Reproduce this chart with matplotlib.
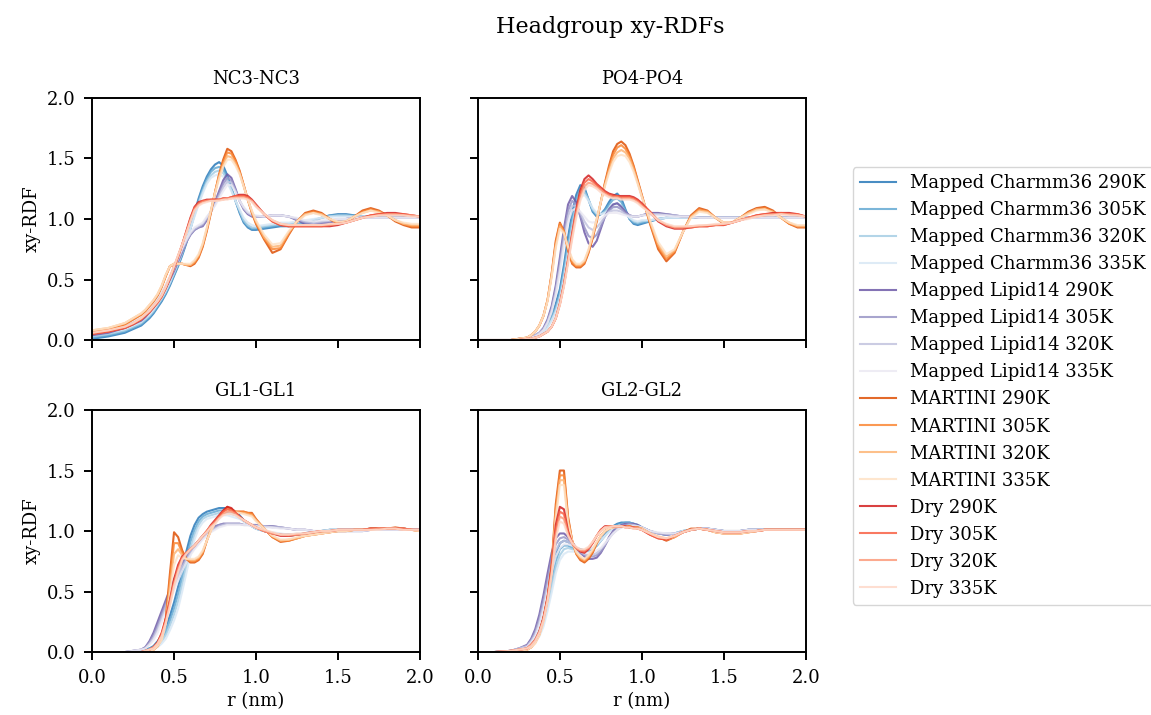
import matplotlib
matplotlib.use("Agg")
import matplotlib.pyplot as plt

plt.rcParams['font.family'] = ['DejaVu Serif']
plt.rcParams['axes.linewidth'] = 1.4

# r grid (nm)
r = [0.0, 0.1, 0.2, 0.25,
     0.3, 0.325, 0.35, 0.375, 0.4, 0.425, 0.45, 0.475,
     0.5, 0.525, 0.55, 0.575, 0.6, 0.625, 0.65, 0.675,
     0.7, 0.725, 0.75, 0.775, 0.8, 0.825, 0.85, 0.875,
     0.9, 0.925, 0.95, 0.975, 1.0,
     1.05, 1.1, 1.15, 1.2, 1.25, 1.3, 1.35, 1.4, 1.45, 1.5,
     1.55, 1.6, 1.65, 1.7, 1.75, 1.8, 1.85, 1.9, 1.95, 2.0]

# ---------------- NC3-NC3 ----------------
nc3_charmm_290 = [0.01, 0.03, 0.06, 0.09,
                  0.12, 0.15, 0.18, 0.22, 0.27, 0.32, 0.38, 0.45,
                  0.53, 0.61, 0.70, 0.80, 0.92, 1.05, 1.17, 1.27,
                  1.35, 1.41, 1.45, 1.47, 1.44, 1.36, 1.26, 1.15,
                  1.05, 0.97, 0.93, 0.91, 0.91,
                  0.92, 0.93, 0.94, 0.94, 0.95, 0.96, 0.98, 1.01, 1.03, 1.04,
                  1.04, 1.03, 1.02, 1.02, 1.02, 1.02, 1.02, 1.02, 1.02, 1.02]
nc3_charmm_305 = [0.02, 0.04, 0.07, 0.10,
                  0.13, 0.16, 0.19, 0.23, 0.28, 0.33, 0.39, 0.46,
                  0.54, 0.62, 0.71, 0.81, 0.92, 1.04, 1.15, 1.25,
                  1.33, 1.39, 1.42, 1.43, 1.41, 1.34, 1.25, 1.15,
                  1.06, 0.98, 0.94, 0.92, 0.92,
                  0.93, 0.94, 0.95, 0.95, 0.96, 0.97, 0.99, 1.01, 1.03, 1.03,
                  1.03, 1.03, 1.02, 1.02, 1.02, 1.02, 1.02, 1.02, 1.02, 1.02]
nc3_charmm_320 = [0.03, 0.05, 0.08, 0.11,
                  0.14, 0.17, 0.20, 0.24, 0.29, 0.34, 0.40, 0.47,
                  0.55, 0.63, 0.72, 0.82, 0.92, 1.03, 1.13, 1.23,
                  1.31, 1.36, 1.39, 1.40, 1.38, 1.32, 1.24, 1.15,
                  1.07, 0.99, 0.95, 0.93, 0.93,
                  0.94, 0.95, 0.96, 0.96, 0.97, 0.98, 0.99, 1.01, 1.02, 1.03,
                  1.03, 1.02, 1.02, 1.02, 1.02, 1.02, 1.02, 1.01, 1.01, 1.01]
nc3_charmm_335 = [0.04, 0.06, 0.09, 0.12,
                  0.15, 0.18, 0.21, 0.25, 0.30, 0.35, 0.41, 0.48,
                  0.56, 0.64, 0.73, 0.82, 0.92, 1.02, 1.12, 1.21,
                  1.29, 1.34, 1.36, 1.37, 1.35, 1.30, 1.23, 1.15,
                  1.08, 1.01, 0.97, 0.95, 0.94,
                  0.95, 0.96, 0.97, 0.97, 0.98, 0.99, 1.00, 1.01, 1.02, 1.02,
                  1.02, 1.02, 1.02, 1.02, 1.01, 1.01, 1.01, 1.01, 1.01, 1.01]
nc3_lipid_290 = [0.04, 0.06, 0.10, 0.13,
                 0.16, 0.19, 0.23, 0.27, 0.32, 0.37, 0.43, 0.50,
                 0.57, 0.65, 0.73, 0.81, 0.87, 0.91, 0.93, 0.94,
                 0.99, 1.06, 1.14, 1.23, 1.32, 1.37, 1.34, 1.25,
                 1.15, 1.08, 1.04, 1.02, 1.02,
                 1.02, 1.03, 1.03, 1.02, 0.99, 0.96, 0.95, 0.96, 0.97, 0.99,
                 1.00, 1.01, 1.01, 1.01, 1.01, 1.01, 1.01, 1.01, 1.01, 1.01]
nc3_lipid_305 = [0.05, 0.07, 0.11, 0.14,
                 0.17, 0.20, 0.24, 0.28, 0.33, 0.38, 0.44, 0.51,
                 0.58, 0.66, 0.74, 0.81, 0.87, 0.91, 0.93, 0.95,
                 1.00, 1.06, 1.13, 1.21, 1.29, 1.34, 1.32, 1.24,
                 1.15, 1.09, 1.05, 1.03, 1.02,
                 1.02, 1.03, 1.03, 1.02, 1.00, 0.97, 0.96, 0.97, 0.98, 0.99,
                 1.00, 1.01, 1.01, 1.01, 1.01, 1.01, 1.01, 1.01, 1.01, 1.01]
nc3_lipid_320 = [0.06, 0.08, 0.12, 0.15,
                 0.18, 0.21, 0.25, 0.29, 0.34, 0.39, 0.45, 0.52,
                 0.59, 0.67, 0.75, 0.82, 0.88, 0.92, 0.94, 0.96,
                 1.01, 1.06, 1.12, 1.19, 1.26, 1.31, 1.30, 1.23,
                 1.15, 1.09, 1.05, 1.03, 1.02,
                 1.02, 1.03, 1.03, 1.02, 1.00, 0.98, 0.97, 0.98, 0.99, 1.00,
                 1.00, 1.01, 1.01, 1.01, 1.01, 1.01, 1.01, 1.01, 1.01, 1.01]
nc3_lipid_335 = [0.07, 0.09, 0.13, 0.16,
                 0.19, 0.22, 0.26, 0.30, 0.35, 0.40, 0.46, 0.53,
                 0.60, 0.68, 0.76, 0.83, 0.89, 0.93, 0.95, 0.97,
                 1.02, 1.06, 1.11, 1.17, 1.23, 1.28, 1.28, 1.22,
                 1.15, 1.10, 1.06, 1.04, 1.03,
                 1.02, 1.03, 1.03, 1.02, 1.01, 0.99, 0.98, 0.99, 0.99, 1.00,
                 1.00, 1.01, 1.01, 1.01, 1.01, 1.01, 1.01, 1.01, 1.01, 1.01]
nc3_martini_290 = [0.07, 0.09, 0.13, 0.17,
                   0.21, 0.24, 0.28, 0.32, 0.37, 0.44, 0.53, 0.61,
                   0.62, 0.63, 0.63, 0.62, 0.61, 0.63, 0.68, 0.77,
                   0.90, 1.05, 1.22, 1.37, 1.49, 1.58, 1.56, 1.49,
                   1.40, 1.28, 1.16, 1.05, 0.96,
                   0.83, 0.72, 0.75, 0.87, 0.98, 1.05, 1.07, 1.05, 1.00, 0.96,
                   0.97, 1.02, 1.07, 1.09, 1.07, 1.03, 0.98, 0.95, 0.93, 0.93]
nc3_martini_305 = [0.07, 0.09, 0.13, 0.17,
                   0.21, 0.24, 0.28, 0.32, 0.37, 0.44, 0.53, 0.61,
                   0.63, 0.63, 0.63, 0.62, 0.62, 0.64, 0.69, 0.78,
                   0.91, 1.06, 1.22, 1.36, 1.47, 1.55, 1.54, 1.48,
                   1.39, 1.28, 1.16, 1.06, 0.97,
                   0.84, 0.75, 0.76, 0.88, 0.98, 1.04, 1.06, 1.04, 1.00, 0.97,
                   0.98, 1.02, 1.06, 1.08, 1.06, 1.03, 0.99, 0.96, 0.94, 0.94]
nc3_martini_320 = [0.08, 0.10, 0.14, 0.18,
                   0.22, 0.25, 0.29, 0.33, 0.38, 0.45, 0.54, 0.61,
                   0.63, 0.63, 0.63, 0.62, 0.62, 0.65, 0.70, 0.79,
                   0.92, 1.07, 1.22, 1.35, 1.45, 1.52, 1.51, 1.46,
                   1.38, 1.27, 1.16, 1.06, 0.98,
                   0.85, 0.77, 0.78, 0.89, 0.98, 1.04, 1.05, 1.04, 1.00, 0.97,
                   0.98, 1.02, 1.05, 1.07, 1.06, 1.03, 0.99, 0.96, 0.95, 0.95]
nc3_martini_335 = [0.08, 0.10, 0.14, 0.18,
                   0.22, 0.25, 0.29, 0.33, 0.38, 0.45, 0.54, 0.61,
                   0.63, 0.63, 0.63, 0.63, 0.63, 0.66, 0.71, 0.80,
                   0.93, 1.07, 1.21, 1.33, 1.43, 1.49, 1.49, 1.44,
                   1.37, 1.27, 1.16, 1.07, 0.99,
                   0.87, 0.79, 0.80, 0.90, 0.98, 1.03, 1.05, 1.03, 1.00, 0.98,
                   0.98, 1.02, 1.05, 1.07, 1.05, 1.03, 0.99, 0.97, 0.96, 0.96]
nc3_dry_290 = [0.05, 0.07, 0.10, 0.13,
               0.17, 0.20, 0.23, 0.27, 0.31, 0.36, 0.43, 0.51,
               0.60, 0.69, 0.79, 0.90, 1.01, 1.10, 1.14, 1.15,
               1.16, 1.16, 1.16, 1.16, 1.17, 1.17, 1.18, 1.19,
               1.20, 1.20, 1.19, 1.16, 1.12,
               1.04, 0.98, 0.95, 0.94, 0.94, 0.94, 0.94, 0.94, 0.94, 0.95,
               0.97, 0.99, 1.01, 1.03, 1.04, 1.05, 1.05, 1.04, 1.03, 1.02]
nc3_dry_305 = [0.05, 0.07, 0.10, 0.13,
               0.17, 0.20, 0.23, 0.27, 0.31, 0.36, 0.43, 0.51,
               0.60, 0.69, 0.79, 0.89, 1.00, 1.09, 1.13, 1.15,
               1.15, 1.16, 1.16, 1.16, 1.17, 1.17, 1.18, 1.19,
               1.19, 1.19, 1.18, 1.15, 1.11,
               1.04, 0.98, 0.95, 0.94, 0.94, 0.94, 0.94, 0.94, 0.95, 0.96,
               0.97, 0.99, 1.01, 1.03, 1.04, 1.04, 1.04, 1.04, 1.03, 1.02]
nc3_dry_320 = [0.06, 0.08, 0.11, 0.14,
               0.18, 0.21, 0.24, 0.28, 0.32, 0.37, 0.44, 0.52,
               0.61, 0.70, 0.79, 0.89, 0.99, 1.08, 1.12, 1.14,
               1.15, 1.15, 1.15, 1.16, 1.16, 1.17, 1.17, 1.18,
               1.18, 1.18, 1.17, 1.15, 1.11,
               1.04, 0.99, 0.96, 0.95, 0.95, 0.95, 0.95, 0.95, 0.95, 0.96,
               0.97, 0.99, 1.01, 1.02, 1.03, 1.04, 1.04, 1.03, 1.03, 1.02]
nc3_dry_335 = [0.06, 0.08, 0.11, 0.14,
               0.18, 0.21, 0.24, 0.28, 0.32, 0.37, 0.44, 0.52,
               0.61, 0.70, 0.79, 0.88, 0.98, 1.07, 1.11, 1.13,
               1.14, 1.15, 1.15, 1.15, 1.16, 1.16, 1.17, 1.17,
               1.17, 1.17, 1.16, 1.14, 1.10,
               1.04, 0.99, 0.96, 0.95, 0.95, 0.95, 0.95, 0.95, 0.96, 0.96,
               0.97, 0.99, 1.01, 1.02, 1.03, 1.03, 1.03, 1.03, 1.02, 1.02]

# ---------------- PO4-PO4 ----------------
po4_charmm_290 = [0.0, 0.0, 0.0, 0.0,
                  0.01, 0.02, 0.03, 0.05, 0.08, 0.13, 0.20, 0.30,
                  0.42, 0.62, 0.85, 1.05, 1.20, 1.28, 1.26, 1.16,
                  1.06, 1.02, 1.04, 1.08, 1.14, 1.19, 1.21, 1.17,
                  1.08, 1.00, 0.96, 0.95, 0.96,
                  0.98, 1.00, 1.01, 1.01, 1.01, 1.01, 1.01, 1.01, 1.01, 1.01,
                  1.01, 1.01, 1.01, 1.01, 1.01, 1.01, 1.01, 1.01, 1.01, 1.01]
po4_charmm_305 = [0.0, 0.0, 0.0, 0.0,
                  0.01, 0.02, 0.03, 0.05, 0.07, 0.12, 0.18, 0.27,
                  0.39, 0.58, 0.80, 1.00, 1.16, 1.25, 1.24, 1.16,
                  1.07, 1.03, 1.04, 1.07, 1.12, 1.16, 1.17, 1.14,
                  1.07, 1.00, 0.97, 0.96, 0.97,
                  0.98, 1.00, 1.01, 1.01, 1.01, 1.01, 1.01, 1.01, 1.01, 1.01,
                  1.01, 1.01, 1.01, 1.01, 1.01, 1.01, 1.01, 1.01, 1.01, 1.01]
po4_charmm_320 = [0.0, 0.0, 0.0, 0.0,
                  0.01, 0.02, 0.03, 0.04, 0.07, 0.11, 0.17, 0.25,
                  0.36, 0.54, 0.75, 0.95, 1.12, 1.22, 1.22, 1.16,
                  1.08, 1.04, 1.04, 1.06, 1.09, 1.12, 1.13, 1.11,
                  1.06, 1.01, 0.98, 0.97, 0.98,
                  0.99, 1.00, 1.01, 1.01, 1.01, 1.01, 1.01, 1.01, 1.01, 1.01,
                  1.01, 1.01, 1.01, 1.01, 1.01, 1.01, 1.01, 1.01, 1.01, 1.01]
po4_charmm_335 = [0.0, 0.0, 0.0, 0.0,
                  0.01, 0.02, 0.03, 0.04, 0.06, 0.10, 0.16, 0.23,
                  0.33, 0.50, 0.70, 0.90, 1.07, 1.18, 1.20, 1.15,
                  1.09, 1.05, 1.04, 1.05, 1.07, 1.09, 1.10, 1.09,
                  1.05, 1.01, 0.99, 0.98, 0.99,
                  0.99, 1.00, 1.01, 1.01, 1.01, 1.01, 1.01, 1.01, 1.01, 1.01,
                  1.01, 1.01, 1.01, 1.01, 1.01, 1.01, 1.01, 1.01, 1.01, 1.01]
po4_lipid_290 = [0.0, 0.0, 0.0, 0.01,
                 0.01, 0.02, 0.04, 0.06, 0.10, 0.17, 0.28, 0.45,
                 0.68, 0.92, 1.12, 1.19, 1.14, 1.02, 0.89, 0.80,
                 0.77, 0.82, 0.92, 1.02, 1.08, 1.12, 1.13, 1.10,
                 1.06, 1.03, 1.02, 1.02, 1.03,
                 1.05, 1.05, 1.04, 1.03, 1.02, 1.02, 1.01, 1.01, 1.01, 1.01,
                 1.01, 1.01, 1.01, 1.01, 1.01, 1.01, 1.01, 1.01, 1.01, 1.01]
po4_lipid_305 = [0.0, 0.0, 0.0, 0.01,
                 0.01, 0.02, 0.04, 0.06, 0.09, 0.16, 0.26, 0.42,
                 0.64, 0.88, 1.07, 1.15, 1.12, 1.03, 0.93, 0.86,
                 0.84, 0.87, 0.94, 1.02, 1.07, 1.10, 1.10, 1.08,
                 1.05, 1.03, 1.02, 1.02, 1.03,
                 1.04, 1.04, 1.04, 1.03, 1.02, 1.02, 1.01, 1.01, 1.01, 1.01,
                 1.01, 1.01, 1.01, 1.01, 1.01, 1.01, 1.01, 1.01, 1.01, 1.01]
po4_lipid_320 = [0.0, 0.0, 0.0, 0.01,
                 0.01, 0.02, 0.04, 0.06, 0.09, 0.15, 0.25, 0.40,
                 0.60, 0.83, 1.02, 1.11, 1.11, 1.05, 0.98, 0.93,
                 0.91, 0.93, 0.97, 1.02, 1.06, 1.07, 1.07, 1.06,
                 1.04, 1.03, 1.02, 1.02, 1.03,
                 1.04, 1.04, 1.03, 1.03, 1.02, 1.02, 1.01, 1.01, 1.01, 1.01,
                 1.01, 1.01, 1.01, 1.01, 1.01, 1.01, 1.01, 1.01, 1.01, 1.01]
po4_lipid_335 = [0.0, 0.0, 0.0, 0.01,
                 0.01, 0.02, 0.03, 0.05, 0.08, 0.14, 0.23, 0.37,
                 0.56, 0.78, 0.97, 1.07, 1.09, 1.06, 1.02, 0.98,
                 0.97, 0.98, 1.00, 1.03, 1.05, 1.05, 1.05, 1.04,
                 1.03, 1.02, 1.02, 1.02, 1.03,
                 1.03, 1.03, 1.03, 1.02, 1.02, 1.02, 1.01, 1.01, 1.01, 1.01,
                 1.01, 1.01, 1.01, 1.01, 1.01, 1.01, 1.01, 1.01, 1.01, 1.01]
po4_martini_290 = [0.0, 0.0, 0.0, 0.01,
                   0.02, 0.04, 0.07, 0.12, 0.20, 0.33, 0.55, 0.82,
                   0.97, 0.90, 0.74, 0.63, 0.60, 0.60, 0.63, 0.72,
                   0.84, 0.98, 1.14, 1.30, 1.44, 1.56, 1.62, 1.64,
                   1.61, 1.54, 1.44, 1.32, 1.20,
                   0.96, 0.75, 0.65, 0.72, 0.89, 1.03, 1.09, 1.07, 1.01, 0.96,
                   0.97, 1.01, 1.06, 1.09, 1.10, 1.07, 1.01, 0.96, 0.93, 0.93]
po4_martini_305 = [0.0, 0.0, 0.0, 0.01,
                   0.02, 0.04, 0.07, 0.12, 0.20, 0.33, 0.54, 0.80,
                   0.96, 0.90, 0.75, 0.64, 0.61, 0.61, 0.64, 0.73,
                   0.85, 0.99, 1.14, 1.29, 1.42, 1.53, 1.59, 1.61,
                   1.58, 1.52, 1.43, 1.31, 1.19,
                   0.97, 0.77, 0.67, 0.73, 0.89, 1.02, 1.08, 1.06, 1.01, 0.97,
                   0.97, 1.01, 1.05, 1.08, 1.09, 1.06, 1.01, 0.96, 0.94, 0.94]
po4_martini_320 = [0.0, 0.0, 0.0, 0.01,
                   0.02, 0.04, 0.07, 0.12, 0.20, 0.33, 0.53, 0.78,
                   0.94, 0.89, 0.76, 0.66, 0.62, 0.62, 0.65, 0.74,
                   0.86, 1.00, 1.14, 1.28, 1.40, 1.50, 1.55, 1.57,
                   1.55, 1.50, 1.41, 1.30, 1.19,
                   0.98, 0.79, 0.69, 0.74, 0.89, 1.02, 1.07, 1.06, 1.01, 0.97,
                   0.97, 1.01, 1.05, 1.08, 1.08, 1.06, 1.01, 0.97, 0.94, 0.94]
po4_martini_335 = [0.0, 0.0, 0.0, 0.01,
                   0.02, 0.04, 0.07, 0.12, 0.20, 0.32, 0.52, 0.76,
                   0.92, 0.88, 0.77, 0.67, 0.63, 0.63, 0.66, 0.75,
                   0.87, 1.00, 1.14, 1.27, 1.38, 1.47, 1.52, 1.53,
                   1.52, 1.47, 1.39, 1.29, 1.18,
                   0.99, 0.81, 0.71, 0.75, 0.89, 1.01, 1.06, 1.05, 1.01, 0.97,
                   0.97, 1.01, 1.04, 1.07, 1.08, 1.05, 1.01, 0.97, 0.95, 0.95]
po4_dry_290 = [0.0, 0.0, 0.0, 0.0,
               0.01, 0.01, 0.02, 0.03, 0.05, 0.07, 0.11, 0.18,
               0.30, 0.46, 0.66, 0.88, 1.08, 1.24, 1.33, 1.36,
               1.33, 1.29, 1.26, 1.23, 1.21, 1.20, 1.19, 1.19,
               1.19, 1.19, 1.18, 1.16, 1.13,
               1.06, 0.98, 0.94, 0.92, 0.92, 0.93, 0.94, 0.94, 0.95, 0.95,
               0.97, 0.99, 1.01, 1.03, 1.04, 1.05, 1.05, 1.05, 1.04, 1.02]
po4_dry_305 = [0.0, 0.0, 0.0, 0.0,
               0.01, 0.01, 0.02, 0.03, 0.05, 0.07, 0.11, 0.18,
               0.30, 0.46, 0.66, 0.87, 1.06, 1.21, 1.30, 1.33,
               1.31, 1.28, 1.25, 1.22, 1.20, 1.19, 1.19, 1.18,
               1.18, 1.18, 1.17, 1.15, 1.12,
               1.06, 0.99, 0.95, 0.93, 0.93, 0.93, 0.94, 0.94, 0.95, 0.95,
               0.97, 0.99, 1.01, 1.03, 1.04, 1.04, 1.05, 1.04, 1.04, 1.02]
po4_dry_320 = [0.0, 0.0, 0.0, 0.0,
               0.01, 0.01, 0.02, 0.03, 0.05, 0.07, 0.11, 0.18,
               0.29, 0.45, 0.65, 0.85, 1.04, 1.18, 1.27, 1.30,
               1.29, 1.26, 1.24, 1.21, 1.19, 1.18, 1.18, 1.17,
               1.17, 1.17, 1.16, 1.14, 1.11,
               1.05, 0.99, 0.95, 0.93, 0.93, 0.94, 0.94, 0.95, 0.95, 0.96,
               0.97, 0.99, 1.01, 1.02, 1.03, 1.04, 1.04, 1.04, 1.03, 1.02]
po4_dry_335 = [0.0, 0.0, 0.0, 0.0,
               0.01, 0.01, 0.02, 0.03, 0.05, 0.07, 0.11, 0.18,
               0.29, 0.44, 0.63, 0.83, 1.01, 1.15, 1.24, 1.28,
               1.27, 1.25, 1.22, 1.20, 1.18, 1.17, 1.17, 1.16,
               1.16, 1.16, 1.15, 1.13, 1.10,
               1.05, 0.99, 0.96, 0.94, 0.94, 0.94, 0.95, 0.95, 0.96, 0.96,
               0.97, 0.99, 1.00, 1.02, 1.03, 1.03, 1.04, 1.03, 1.03, 1.02]

# ---------------- GL1-GL1 ----------------
gl1_charmm_290 = [0.0, 0.0, 0.0, 0.0,
                  0.01, 0.02, 0.03, 0.05, 0.09, 0.14, 0.21, 0.30,
                  0.41, 0.54, 0.68, 0.83, 0.96, 1.05, 1.11, 1.14,
                  1.16, 1.17, 1.18, 1.19, 1.19, 1.19, 1.18, 1.16,
                  1.13, 1.09, 1.06, 1.04, 1.02,
                  1.00, 0.98, 0.97, 0.96, 0.97, 0.98, 0.99, 1.00, 1.01, 1.01,
                  1.01, 1.01, 1.01, 1.02, 1.02, 1.02, 1.02, 1.02, 1.01, 1.01]
gl1_charmm_305 = [0.0, 0.0, 0.0, 0.0,
                  0.01, 0.02, 0.03, 0.04, 0.07, 0.11, 0.17, 0.26,
                  0.36, 0.48, 0.62, 0.77, 0.91, 1.01, 1.08, 1.12,
                  1.14, 1.15, 1.16, 1.17, 1.17, 1.17, 1.16, 1.14,
                  1.12, 1.09, 1.06, 1.04, 1.02,
                  1.00, 0.98, 0.97, 0.97, 0.97, 0.98, 0.99, 1.00, 1.01, 1.01,
                  1.01, 1.01, 1.01, 1.02, 1.02, 1.02, 1.02, 1.02, 1.01, 1.01]
gl1_charmm_320 = [0.0, 0.0, 0.0, 0.0,
                  0.01, 0.01, 0.02, 0.03, 0.05, 0.09, 0.14, 0.22,
                  0.31, 0.42, 0.56, 0.71, 0.85, 0.97, 1.05, 1.10,
                  1.12, 1.13, 1.14, 1.15, 1.15, 1.15, 1.14, 1.13,
                  1.11, 1.08, 1.06, 1.04, 1.02,
                  1.00, 0.98, 0.97, 0.97, 0.97, 0.98, 0.99, 1.00, 1.01, 1.01,
                  1.01, 1.01, 1.01, 1.01, 1.02, 1.02, 1.02, 1.01, 1.01, 1.01]
gl1_charmm_335 = [0.0, 0.0, 0.0, 0.0,
                  0.0, 0.01, 0.02, 0.03, 0.04, 0.07, 0.11, 0.18,
                  0.26, 0.36, 0.50, 0.65, 0.80, 0.93, 1.02, 1.07,
                  1.10, 1.11, 1.12, 1.13, 1.13, 1.13, 1.12, 1.11,
                  1.10, 1.08, 1.06, 1.04, 1.02,
                  1.00, 0.99, 0.98, 0.97, 0.98, 0.98, 0.99, 1.00, 1.01, 1.01,
                  1.01, 1.01, 1.01, 1.01, 1.01, 1.02, 1.02, 1.01, 1.01, 1.01]
gl1_lipid_290 = [0.0, 0.0, 0.0, 0.01,
                 0.02, 0.04, 0.09, 0.16, 0.25, 0.34, 0.43, 0.52,
                 0.60, 0.68, 0.74, 0.79, 0.84, 0.88, 0.92, 0.96,
                 0.99, 1.02, 1.04, 1.05, 1.06, 1.06, 1.06, 1.06,
                 1.06, 1.05, 1.05, 1.05, 1.05,
                 1.04, 1.04, 1.03, 1.02, 1.01, 1.01, 1.00, 1.00, 1.00, 1.00,
                 1.00, 1.00, 1.00, 1.01, 1.01, 1.01, 1.01, 1.01, 1.01, 1.01]
gl1_lipid_305 = [0.0, 0.0, 0.0, 0.01,
                 0.02, 0.04, 0.08, 0.14, 0.22, 0.31, 0.40, 0.49,
                 0.57, 0.65, 0.72, 0.78, 0.83, 0.87, 0.91, 0.95,
                 0.98, 1.01, 1.03, 1.05, 1.06, 1.06, 1.06, 1.06,
                 1.06, 1.05, 1.05, 1.05, 1.05,
                 1.04, 1.04, 1.03, 1.02, 1.01, 1.01, 1.00, 1.00, 1.00, 1.00,
                 1.00, 1.00, 1.00, 1.01, 1.01, 1.01, 1.01, 1.01, 1.01, 1.01]
gl1_lipid_320 = [0.0, 0.0, 0.0, 0.01,
                 0.02, 0.03, 0.07, 0.12, 0.19, 0.28, 0.37, 0.46,
                 0.54, 0.62, 0.70, 0.76, 0.82, 0.86, 0.90, 0.94,
                 0.97, 1.00, 1.02, 1.04, 1.05, 1.06, 1.06, 1.06,
                 1.06, 1.05, 1.05, 1.05, 1.04,
                 1.04, 1.03, 1.03, 1.02, 1.01, 1.01, 1.00, 1.00, 1.00, 1.00,
                 1.00, 1.00, 1.00, 1.01, 1.01, 1.01, 1.01, 1.01, 1.01, 1.01]
gl1_lipid_335 = [0.0, 0.0, 0.0, 0.01,
                 0.02, 0.03, 0.06, 0.10, 0.16, 0.25, 0.34, 0.43,
                 0.51, 0.59, 0.67, 0.74, 0.80, 0.85, 0.89, 0.93,
                 0.96, 0.99, 1.01, 1.03, 1.04, 1.05, 1.05, 1.05,
                 1.05, 1.05, 1.05, 1.04, 1.04,
                 1.03, 1.03, 1.02, 1.02, 1.01, 1.01, 1.00, 1.00, 1.00, 1.00,
                 1.00, 1.00, 1.00, 1.01, 1.01, 1.01, 1.01, 1.01, 1.01, 1.01]
gl1_martini_290 = [0.0, 0.0, 0.0, 0.0,
                   0.0, 0.0, 0.01, 0.02, 0.05, 0.12, 0.28, 0.65,
                   0.99, 0.95, 0.84, 0.77, 0.74, 0.74, 0.76, 0.81,
                   0.92, 1.01, 1.07, 1.12, 1.16, 1.20, 1.18, 1.16,
                   1.16, 1.16, 1.15, 1.15, 1.10,
                   1.02, 0.95, 0.91, 0.92, 0.94, 0.96, 0.97, 0.98, 0.99, 1.00,
                   1.00, 1.01, 1.01, 1.02, 1.02, 1.02, 1.03, 1.02, 1.01, 1.00]
gl1_martini_305 = [0.0, 0.0, 0.0, 0.0,
                   0.0, 0.0, 0.01, 0.02, 0.05, 0.12, 0.27, 0.60,
                   0.90, 0.90, 0.82, 0.77, 0.75, 0.75, 0.77, 0.82,
                   0.92, 1.01, 1.07, 1.12, 1.16, 1.19, 1.18, 1.16,
                   1.16, 1.16, 1.15, 1.14, 1.09,
                   1.02, 0.95, 0.92, 0.92, 0.94, 0.96, 0.97, 0.98, 0.99, 1.00,
                   1.00, 1.01, 1.01, 1.02, 1.02, 1.02, 1.02, 1.02, 1.01, 1.00]
gl1_martini_320 = [0.0, 0.0, 0.0, 0.0,
                   0.0, 0.0, 0.01, 0.02, 0.05, 0.11, 0.25, 0.54,
                   0.81, 0.85, 0.80, 0.77, 0.76, 0.76, 0.78, 0.83,
                   0.92, 1.01, 1.07, 1.11, 1.15, 1.18, 1.17, 1.16,
                   1.15, 1.15, 1.14, 1.13, 1.09,
                   1.02, 0.96, 0.92, 0.93, 0.94, 0.96, 0.97, 0.98, 0.99, 1.00,
                   1.00, 1.01, 1.01, 1.02, 1.02, 1.02, 1.02, 1.02, 1.01, 1.00]
gl1_martini_335 = [0.0, 0.0, 0.0, 0.0,
                   0.0, 0.0, 0.01, 0.02, 0.05, 0.10, 0.23, 0.48,
                   0.72, 0.80, 0.78, 0.77, 0.77, 0.77, 0.79, 0.84,
                   0.92, 1.00, 1.06, 1.11, 1.14, 1.17, 1.16, 1.15,
                   1.15, 1.14, 1.13, 1.12, 1.08,
                   1.02, 0.96, 0.93, 0.93, 0.95, 0.96, 0.97, 0.98, 0.99, 1.00,
                   1.00, 1.01, 1.01, 1.01, 1.02, 1.02, 1.02, 1.02, 1.01, 1.00]
gl1_dry_290 = [0.0, 0.0, 0.0, 0.0,
               0.0, 0.01, 0.02, 0.04, 0.08, 0.16, 0.28, 0.43,
               0.60, 0.72, 0.79, 0.82, 0.85, 0.88, 0.92, 0.96,
               1.00, 1.05, 1.09, 1.13, 1.17, 1.20, 1.19, 1.15,
               1.12, 1.09, 1.07, 1.05, 1.03,
               1.00, 0.98, 0.96, 0.96, 0.97, 0.98, 0.99, 1.00, 1.00, 1.01,
               1.01, 1.01, 1.01, 1.02, 1.02, 1.02, 1.02, 1.02, 1.01, 1.01]
gl1_dry_305 = [0.0, 0.0, 0.0, 0.0,
               0.0, 0.01, 0.02, 0.04, 0.08, 0.15, 0.27, 0.42,
               0.58, 0.70, 0.78, 0.82, 0.85, 0.88, 0.92, 0.96,
               1.00, 1.04, 1.08, 1.12, 1.16, 1.18, 1.17, 1.15,
               1.12, 1.09, 1.07, 1.05, 1.03,
               1.00, 0.98, 0.97, 0.96, 0.97, 0.98, 0.99, 1.00, 1.00, 1.01,
               1.01, 1.01, 1.01, 1.02, 1.02, 1.02, 1.02, 1.02, 1.01, 1.01]
gl1_dry_320 = [0.0, 0.0, 0.0, 0.0,
               0.0, 0.01, 0.02, 0.04, 0.07, 0.14, 0.25, 0.40,
               0.56, 0.68, 0.77, 0.82, 0.85, 0.88, 0.92, 0.96,
               1.00, 1.04, 1.07, 1.11, 1.14, 1.16, 1.16, 1.14,
               1.11, 1.09, 1.07, 1.05, 1.03,
               1.00, 0.98, 0.97, 0.97, 0.97, 0.98, 0.99, 1.00, 1.00, 1.01,
               1.01, 1.01, 1.01, 1.01, 1.02, 1.02, 1.02, 1.01, 1.01, 1.01]
gl1_dry_335 = [0.0, 0.0, 0.0, 0.0,
               0.0, 0.01, 0.02, 0.03, 0.07, 0.13, 0.24, 0.38,
               0.54, 0.66, 0.76, 0.81, 0.85, 0.88, 0.92, 0.96,
               0.99, 1.03, 1.06, 1.10, 1.13, 1.14, 1.14, 1.13,
               1.11, 1.09, 1.07, 1.05, 1.03,
               1.01, 0.99, 0.97, 0.97, 0.98, 0.98, 0.99, 1.00, 1.00, 1.01,
               1.01, 1.01, 1.01, 1.01, 1.01, 1.02, 1.02, 1.01, 1.01, 1.01]

# ---------------- GL2-GL2 ----------------
gl2_charmm_290 = [0.0, 0.0, 0.01, 0.02,
                  0.04, 0.07, 0.11, 0.18, 0.30, 0.46, 0.64, 0.80,
                  0.90, 0.92, 0.91, 0.88, 0.86, 0.85, 0.84, 0.84,
                  0.85, 0.88, 0.92, 0.97, 1.01, 1.04, 1.06, 1.07,
                  1.07, 1.07, 1.06, 1.05, 1.03,
                  1.00, 0.98, 0.97, 0.98, 1.00, 1.01, 1.02, 1.02, 1.01, 1.00,
                  1.00, 1.00, 1.01, 1.01, 1.01, 1.01, 1.01, 1.01, 1.01, 1.01]
gl2_charmm_305 = [0.0, 0.0, 0.01, 0.02,
                  0.03, 0.06, 0.10, 0.16, 0.27, 0.42, 0.59, 0.75,
                  0.85, 0.88, 0.88, 0.86, 0.85, 0.84, 0.84, 0.84,
                  0.85, 0.88, 0.92, 0.96, 1.00, 1.03, 1.05, 1.06,
                  1.07, 1.07, 1.06, 1.05, 1.03,
                  1.00, 0.98, 0.97, 0.98, 1.00, 1.01, 1.02, 1.02, 1.01, 1.00,
                  1.00, 1.00, 1.01, 1.01, 1.01, 1.01, 1.01, 1.01, 1.01, 1.01]
gl2_charmm_320 = [0.0, 0.0, 0.01, 0.02,
                  0.03, 0.05, 0.09, 0.15, 0.24, 0.38, 0.54, 0.70,
                  0.80, 0.85, 0.86, 0.85, 0.84, 0.84, 0.84, 0.84,
                  0.86, 0.88, 0.92, 0.96, 1.00, 1.02, 1.04, 1.05,
                  1.06, 1.06, 1.06, 1.05, 1.03,
                  1.00, 0.98, 0.97, 0.98, 1.00, 1.01, 1.02, 1.02, 1.01, 1.00,
                  1.00, 1.00, 1.01, 1.01, 1.01, 1.01, 1.01, 1.01, 1.01, 1.01]
gl2_charmm_335 = [0.0, 0.0, 0.01, 0.02,
                  0.03, 0.05, 0.08, 0.13, 0.21, 0.34, 0.49, 0.65,
                  0.76, 0.81, 0.83, 0.83, 0.83, 0.83, 0.84, 0.85,
                  0.86, 0.89, 0.92, 0.96, 0.99, 1.02, 1.04, 1.05,
                  1.05, 1.05, 1.05, 1.04, 1.03,
                  1.00, 0.98, 0.98, 0.98, 1.00, 1.01, 1.02, 1.02, 1.01, 1.00,
                  1.00, 1.00, 1.01, 1.01, 1.01, 1.01, 1.01, 1.01, 1.01, 1.01]
gl2_lipid_290 = [0.0, 0.0, 0.01, 0.03,
                 0.06, 0.11, 0.19, 0.31, 0.47, 0.65, 0.82, 0.94,
                 0.98, 0.98, 0.95, 0.91, 0.86, 0.82, 0.79, 0.77,
                 0.77, 0.78, 0.82, 0.88, 0.95, 1.00, 1.03, 1.05,
                 1.06, 1.06, 1.06, 1.05, 1.03,
                 1.00, 0.98, 0.97, 0.98, 0.99, 1.01, 1.02, 1.02, 1.01, 1.00,
                 1.00, 1.00, 1.01, 1.01, 1.01, 1.01, 1.01, 1.01, 1.01, 1.01]
gl2_lipid_305 = [0.0, 0.0, 0.01, 0.03,
                 0.05, 0.10, 0.17, 0.28, 0.43, 0.60, 0.77, 0.89,
                 0.94, 0.95, 0.93, 0.90, 0.86, 0.82, 0.80, 0.79,
                 0.79, 0.80, 0.83, 0.88, 0.94, 0.99, 1.02, 1.04,
                 1.05, 1.06, 1.05, 1.04, 1.03,
                 1.00, 0.98, 0.97, 0.98, 0.99, 1.01, 1.02, 1.02, 1.01, 1.00,
                 1.00, 1.00, 1.01, 1.01, 1.01, 1.01, 1.01, 1.01, 1.01, 1.01]
gl2_lipid_320 = [0.0, 0.0, 0.01, 0.03,
                 0.05, 0.09, 0.15, 0.25, 0.39, 0.55, 0.72, 0.84,
                 0.90, 0.92, 0.91, 0.89, 0.86, 0.83, 0.81, 0.80,
                 0.80, 0.82, 0.85, 0.89, 0.94, 0.98, 1.01, 1.03,
                 1.04, 1.05, 1.05, 1.04, 1.03,
                 1.00, 0.98, 0.98, 0.98, 0.99, 1.01, 1.02, 1.02, 1.01, 1.00,
                 1.00, 1.00, 1.01, 1.01, 1.01, 1.01, 1.01, 1.01, 1.01, 1.01]
gl2_lipid_335 = [0.0, 0.0, 0.01, 0.02,
                 0.04, 0.08, 0.13, 0.22, 0.35, 0.50, 0.66, 0.79,
                 0.86, 0.89, 0.89, 0.88, 0.86, 0.84, 0.82, 0.82,
                 0.82, 0.84, 0.86, 0.90, 0.94, 0.98, 1.01, 1.03,
                 1.04, 1.04, 1.04, 1.04, 1.03,
                 1.00, 0.99, 0.98, 0.98, 0.99, 1.01, 1.02, 1.02, 1.01, 1.00,
                 1.00, 1.00, 1.01, 1.01, 1.01, 1.01, 1.01, 1.01, 1.01, 1.01]
gl2_martini_290 = [0.0, 0.0, 0.0, 0.01,
                   0.02, 0.04, 0.08, 0.15, 0.28, 0.45, 0.72, 1.22,
                   1.50, 1.50, 1.12, 0.92, 0.81, 0.76, 0.74, 0.77,
                   0.82, 0.90, 0.96, 1.00, 1.02, 1.04, 1.04, 1.04,
                   1.04, 1.04, 1.03, 1.03, 1.02,
                   0.98, 0.95, 0.92, 0.95, 0.99, 1.02, 1.02, 1.01, 0.99, 0.98,
                   0.98, 0.98, 0.99, 1.00, 1.01, 1.01, 1.01, 1.01, 1.01, 1.01]
gl2_martini_305 = [0.0, 0.0, 0.0, 0.01,
                   0.02, 0.04, 0.08, 0.15, 0.27, 0.44, 0.70, 1.18,
                   1.46, 1.46, 1.10, 0.92, 0.82, 0.77, 0.75, 0.78,
                   0.83, 0.90, 0.96, 1.00, 1.02, 1.03, 1.04, 1.04,
                   1.04, 1.04, 1.03, 1.03, 1.02,
                   0.98, 0.95, 0.93, 0.95, 0.99, 1.01, 1.02, 1.01, 0.99, 0.98,
                   0.98, 0.98, 0.99, 1.00, 1.01, 1.01, 1.01, 1.01, 1.01, 1.01]
gl2_martini_320 = [0.0, 0.0, 0.0, 0.01,
                   0.02, 0.04, 0.08, 0.14, 0.26, 0.43, 0.68, 1.14,
                   1.42, 1.42, 1.08, 0.92, 0.82, 0.78, 0.76, 0.79,
                   0.84, 0.91, 0.96, 1.00, 1.02, 1.03, 1.04, 1.04,
                   1.04, 1.03, 1.03, 1.02, 1.02,
                   0.98, 0.95, 0.93, 0.95, 0.99, 1.01, 1.02, 1.01, 0.99, 0.98,
                   0.98, 0.98, 0.99, 1.00, 1.01, 1.01, 1.01, 1.01, 1.01, 1.01]
gl2_martini_335 = [0.0, 0.0, 0.0, 0.01,
                   0.02, 0.04, 0.07, 0.14, 0.25, 0.42, 0.66, 1.10,
                   1.38, 1.38, 1.06, 0.91, 0.83, 0.79, 0.77, 0.80,
                   0.85, 0.91, 0.96, 1.00, 1.02, 1.03, 1.03, 1.04,
                   1.04, 1.03, 1.03, 1.02, 1.02,
                   0.98, 0.96, 0.94, 0.96, 0.99, 1.01, 1.02, 1.01, 0.99, 0.98,
                   0.98, 0.98, 0.99, 1.00, 1.01, 1.01, 1.01, 1.01, 1.01, 1.01]
gl2_dry_290 = [0.0, 0.0, 0.01, 0.02,
               0.03, 0.06, 0.10, 0.17, 0.28, 0.45, 0.70, 1.05,
               1.20, 1.18, 1.00, 0.90, 0.86, 0.83, 0.82, 0.85,
               0.90, 0.96, 1.01, 1.04, 1.04, 1.04, 1.04, 1.04,
               1.04, 1.03, 1.03, 1.02, 1.01,
               0.97, 0.94, 0.93, 0.96, 0.99, 1.01, 1.02, 1.01, 1.00, 0.99,
               0.99, 0.99, 1.00, 1.00, 1.01, 1.01, 1.01, 1.01, 1.01, 1.01]
gl2_dry_305 = [0.0, 0.0, 0.01, 0.02,
               0.03, 0.06, 0.10, 0.17, 0.28, 0.44, 0.68, 1.01,
               1.16, 1.14, 0.98, 0.90, 0.86, 0.84, 0.83, 0.86,
               0.90, 0.96, 1.01, 1.03, 1.04, 1.04, 1.04, 1.04,
               1.03, 1.03, 1.03, 1.02, 1.01,
               0.97, 0.94, 0.93, 0.96, 0.99, 1.01, 1.02, 1.01, 1.00, 0.99,
               0.99, 0.99, 1.00, 1.00, 1.01, 1.01, 1.01, 1.01, 1.01, 1.01]
gl2_dry_320 = [0.0, 0.0, 0.01, 0.02,
               0.03, 0.06, 0.10, 0.16, 0.27, 0.43, 0.66, 0.97,
               1.12, 1.10, 0.97, 0.90, 0.86, 0.84, 0.84, 0.86,
               0.91, 0.96, 1.00, 1.03, 1.04, 1.04, 1.04, 1.04,
               1.03, 1.03, 1.02, 1.02, 1.01,
               0.98, 0.95, 0.94, 0.96, 0.99, 1.01, 1.02, 1.01, 1.00, 0.99,
               0.99, 0.99, 1.00, 1.00, 1.01, 1.01, 1.01, 1.01, 1.01, 1.01]
gl2_dry_335 = [0.0, 0.0, 0.01, 0.02,
               0.03, 0.05, 0.09, 0.16, 0.26, 0.42, 0.64, 0.93,
               1.08, 1.06, 0.96, 0.90, 0.87, 0.85, 0.85, 0.87,
               0.91, 0.96, 1.00, 1.03, 1.03, 1.04, 1.04, 1.04,
               1.03, 1.03, 1.02, 1.02, 1.01,
               0.98, 0.95, 0.94, 0.96, 0.99, 1.01, 1.02, 1.01, 1.00, 0.99,
               0.99, 0.99, 1.00, 1.00, 1.01, 1.01, 1.01, 1.01, 1.01, 1.01]

titles = ["NC3-NC3", "PO4-PO4", "GL1-GL1", "GL2-GL2"]
models = ["Mapped Charmm36", "Mapped Lipid14", "MARTINI", "Dry"]
temps = ["290K", "305K", "320K", "335K"]
cmap_names = ["Blues", "Purples", "Oranges", "Reds"]
shades = [0.72, 0.52, 0.35, 0.15]

panel_data = [
    [[nc3_charmm_290, nc3_charmm_305, nc3_charmm_320, nc3_charmm_335],
     [nc3_lipid_290, nc3_lipid_305, nc3_lipid_320, nc3_lipid_335],
     [nc3_martini_290, nc3_martini_305, nc3_martini_320, nc3_martini_335],
     [nc3_dry_290, nc3_dry_305, nc3_dry_320, nc3_dry_335]],
    [[po4_charmm_290, po4_charmm_305, po4_charmm_320, po4_charmm_335],
     [po4_lipid_290, po4_lipid_305, po4_lipid_320, po4_lipid_335],
     [po4_martini_290, po4_martini_305, po4_martini_320, po4_martini_335],
     [po4_dry_290, po4_dry_305, po4_dry_320, po4_dry_335]],
    [[gl1_charmm_290, gl1_charmm_305, gl1_charmm_320, gl1_charmm_335],
     [gl1_lipid_290, gl1_lipid_305, gl1_lipid_320, gl1_lipid_335],
     [gl1_martini_290, gl1_martini_305, gl1_martini_320, gl1_martini_335],
     [gl1_dry_290, gl1_dry_305, gl1_dry_320, gl1_dry_335]],
    [[gl2_charmm_290, gl2_charmm_305, gl2_charmm_320, gl2_charmm_335],
     [gl2_lipid_290, gl2_lipid_305, gl2_lipid_320, gl2_lipid_335],
     [gl2_martini_290, gl2_martini_305, gl2_martini_320, gl2_martini_335],
     [gl2_dry_290, gl2_dry_305, gl2_dry_320, gl2_dry_335]],
]

fig, axes = plt.subplots(2, 2, figsize=(11.51, 7.15), dpi=100, sharex=True, sharey=True)
fig.subplots_adjust(left=0.080, right=0.700, bottom=0.088, top=0.863,
                    wspace=0.177, hspace=0.289)

for ax, title, data in zip(axes.flat, titles, panel_data):
    for m, model in enumerate(models):
        cmap = plt.get_cmap(cmap_names[m])
        for t, temp in enumerate(temps):
            ax.plot(r, data[m][t], color=cmap(shades[t]), lw=1.5, alpha=0.85,
                    label=f"{model} {temp}")
    ax.set_title(title, fontsize=13, pad=10)
    ax.set_xlim(0, 2)
    ax.set_ylim(0, 2)
    ax.set_xticks([0, 0.5, 1.0, 1.5, 2.0])
    ax.set_yticks([0, 0.5, 1.0, 1.5, 2.0])
    ax.tick_params(labelsize=13, length=6, width=1.4, pad=6)

for ax in axes[:, 0]:
    ax.set_ylabel("xy-RDF", fontsize=13)
for ax in axes[1, :]:
    ax.set_xlabel("r (nm)", fontsize=13)

handles, labels = axes[0, 0].get_legend_handles_labels()
fig.legend(handles, labels, loc="upper left", bbox_to_anchor=(0.733, 0.779),
           fontsize=13, labelspacing=0.5, frameon=True)
fig.suptitle("Headgroup xy-RDFs", fontsize=16, x=0.53, y=0.978)

fig.savefig("out.png", dpi=100)
